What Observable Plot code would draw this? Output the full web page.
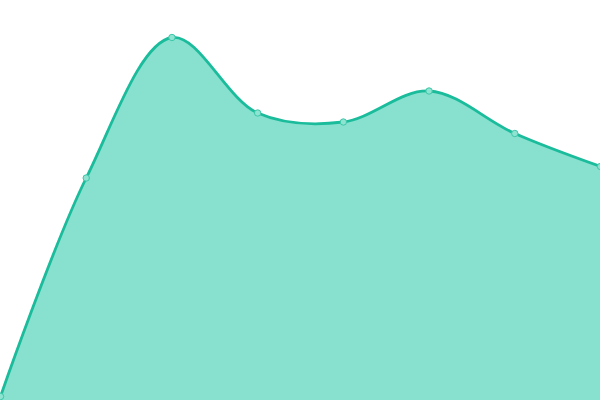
<!DOCTYPE html>
<html>
<head>
<meta charset="utf-8">
<script src="https://cdn.jsdelivr.net/npm/d3@7"></script>
<script src="https://cdn.jsdelivr.net/npm/@observablehq/plot@0.6"></script>
<style>
  html, body { margin: 0; padding: 0; background: #fff; overflow: hidden; }
</style>
</head>
<body>
<div id="chart"></div>
<script>
const indices = [0, 1, 2, 3, 4, 5, 6, 7];
const values = [4, 222.5, 363, 287.5, 278.5, 309.5, 267, 234];

const data = indices.map((i, k) => ({i, v: values[k]}));

const chart = Plot.plot({
  width: 600,
  height: 400,
  margin: 0,
  x: {domain: [0, 7], axis: null},
  y: {domain: [0, 400], axis: null},
  marks: [
    Plot.areaY(data, {x: "i", y: "v", curve: "catmull-rom", fill: "#88e0cf"}),
    Plot.lineY(data, {x: "i", y: "v", curve: "catmull-rom", stroke: "#1abc9c", strokeWidth: 2.8}),
    Plot.dot(data, {x: "i", y: "v", r: 3.2, fill: "#8ee3d1", stroke: "#3cc7a9", strokeWidth: 1})
  ]
});
document.getElementById("chart").appendChild(chart);
</script>
</body>
</html>
